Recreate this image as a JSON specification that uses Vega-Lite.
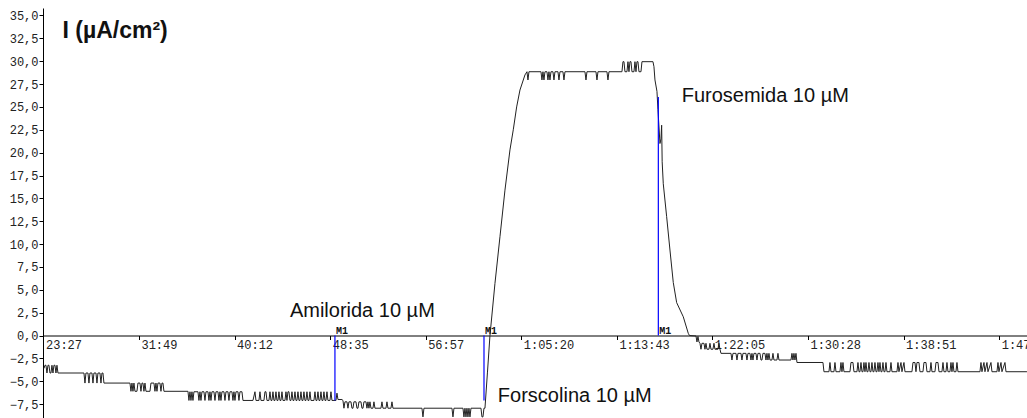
{
"$schema":"https://vega.github.io/schema/vega-lite/v6.json",
"width":984,"height":410,
"autosize":{"type":"none"},
"padding":{"left":43,"top":8,"right":0,"bottom":0},
"background":"white",
"config":{"view":{"stroke":null}},
"datasets":{
"trace":[
{"t":1409.4,"v":-3.6},{"t":1414.7,"v":-3.25},{"t":1420.0,"v":-3.25},{"t":1425.2,"v":-4.1},{"t":1430.5,"v":-3.25},{"t":1435.7,"v":-3.25},{"t":1441.0,"v":-4.1},{"t":1446.3,"v":-4.1},{"t":1451.5,"v":-3.25},{"t":1456.8,"v":-4.1},{"t":1462.0,"v":-3.25},{"t":1467.3,"v":-3.25},{"t":1472.6,"v":-4.1},{"t":1477.8,"v":-3.25},{"t":1483.1,"v":-4.1},{"t":1619.8,"v":-4.1},
{"t":1625.1,"v":-5.2},{"t":1630.4,"v":-4.1},{"t":1640.9,"v":-4.1},{"t":1646.1,"v":-5.2},{"t":1651.4,"v":-4.1},{"t":1661.9,"v":-4.1},{"t":1667.2,"v":-5.2},{"t":1672.4,"v":-4.1},{"t":1683.0,"v":-4.1},{"t":1688.2,"v":-5.2},{"t":1693.5,"v":-4.1},{"t":1704.0,"v":-4.1},{"t":1709.3,"v":-5.2},{"t":1714.5,"v":-4.1},{"t":1719.8,"v":-4.1},{"t":1725.0,"v":-5.2},{"t":1861.8,"v":-5.2},
{"t":1867.1,"v":-6.1},{"t":1872.3,"v":-5.2},{"t":1877.6,"v":-6.1},{"t":1882.8,"v":-5.2},{"t":1888.1,"v":-6.1},{"t":1898.6,"v":-6.1},{"t":1903.9,"v":-5.2},{"t":1914.4,"v":-5.2},{"t":1919.7,"v":-6.1},{"t":1924.9,"v":-5.2},{"t":1930.2,"v":-5.2},{"t":1935.4,"v":-6.1},{"t":1940.7,"v":-5.2},{"t":1946.0,"v":-6.1},{"t":1967.0,"v":-6.1},{"t":1972.3,"v":-5.2},{"t":1988.0,"v":-5.2},{"t":1993.3,"v":-6.1},{"t":1998.6,"v":-5.2},{"t":2003.8,"v":-6.1},{"t":2009.1,"v":-5.2},{"t":2019.6,"v":-5.2},{"t":2024.9,"v":-6.1},{"t":2030.1,"v":-5.2},{"t":2035.4,"v":-5.2},{"t":2040.6,"v":-6.1},{"t":2166.9,"v":-6.1},
{"t":2172.1,"v":-7.1},{"t":2177.4,"v":-6.15},{"t":2182.7,"v":-7.1},{"t":2187.9,"v":-6.15},{"t":2193.2,"v":-7.1},{"t":2198.4,"v":-6.15},{"t":2219.5,"v":-6.15},{"t":2224.7,"v":-7.1},{"t":2230.0,"v":-6.15},{"t":2235.3,"v":-7.1},{"t":2240.5,"v":-6.15},{"t":2251.0,"v":-6.15},{"t":2256.3,"v":-7.1},{"t":2261.6,"v":-6.15},{"t":2272.1,"v":-6.15},{"t":2277.3,"v":-7.1},{"t":2282.6,"v":-6.15},{"t":2287.9,"v":-7.1},{"t":2293.1,"v":-6.15},{"t":2303.6,"v":-6.15},{"t":2308.9,"v":-7.1},{"t":2314.2,"v":-6.15},{"t":2324.7,"v":-6.15},{"t":2329.9,"v":-7.1},{"t":2335.2,"v":-6.15},{"t":2340.5,"v":-7.1},{"t":2345.7,"v":-6.15},{"t":2356.2,"v":-6.15},{"t":2361.5,"v":-7.1},{"t":2366.8,"v":-6.15},{"t":2377.3,"v":-6.15},{"t":2382.5,"v":-7.1},{"t":2387.8,"v":-6.15},{"t":2398.3,"v":-6.15},{"t":2403.6,"v":-7.1},{"t":2408.8,"v":-6.15},{"t":2414.1,"v":-7.1},{"t":2419.4,"v":-6.15},{"t":2429.9,"v":-6.15},{"t":2435.1,"v":-7.1},{"t":2440.4,"v":-6.15},{"t":2450.9,"v":-6.15},{"t":2456.2,"v":-7.1},{"t":2508.8,"v":-7.1},
{"t":2519.3,"v":-6.15},{"t":2524.6,"v":-7.1},{"t":2540.3,"v":-7.1},{"t":2545.6,"v":-6.15},{"t":2550.9,"v":-7.1},{"t":2566.6,"v":-7.1},{"t":2571.9,"v":-6.15},{"t":2577.2,"v":-6.15},{"t":2582.4,"v":-7.1},{"t":2592.9,"v":-7.1},{"t":2598.2,"v":-6.15},{"t":2603.5,"v":-7.1},{"t":2608.7,"v":-7.1},{"t":2614.0,"v":-6.15},{"t":2619.2,"v":-7.1},{"t":2624.5,"v":-7.1},{"t":2629.8,"v":-6.15},{"t":2635.0,"v":-7.1},{"t":2640.3,"v":-7.1},{"t":2645.5,"v":-6.15},{"t":2650.8,"v":-7.1},{"t":2656.1,"v":-7.1},{"t":2661.3,"v":-6.15},{"t":2666.6,"v":-7.1},{"t":2677.1,"v":-7.1},{"t":2682.4,"v":-6.15},{"t":2687.6,"v":-7.1},{"t":2692.9,"v":-6.15},{"t":2698.1,"v":-6.15},{"t":2703.4,"v":-7.1},{"t":2708.7,"v":-7.1},{"t":2713.9,"v":-6.15},{"t":2719.2,"v":-7.1},{"t":2724.4,"v":-7.1},{"t":2729.7,"v":-6.15},{"t":2735.0,"v":-7.1},{"t":2740.2,"v":-7.1},{"t":2745.5,"v":-6.15},{"t":2750.7,"v":-7.1},{"t":2756.0,"v":-7.1},{"t":2761.3,"v":-6.15},{"t":2766.5,"v":-7.1},{"t":2771.8,"v":-7.1},{"t":2777.0,"v":-6.15},{"t":2782.3,"v":-7.1},{"t":2787.6,"v":-7.1},{"t":2792.8,"v":-6.15},{"t":2798.1,"v":-7.1},{"t":2803.3,"v":-7.1},{"t":2808.6,"v":-6.15},{"t":2813.9,"v":-7.1},{"t":2829.6,"v":-7.1},{"t":2834.9,"v":-6.15},{"t":2840.2,"v":-7.1},{"t":2845.4,"v":-7.1},{"t":2850.7,"v":-6.15},{"t":2855.9,"v":-7.1},{"t":2861.2,"v":-7.1},{"t":2866.5,"v":-6.15},{"t":2871.7,"v":-7.1},{"t":2877.0,"v":-7.1},{"t":2882.2,"v":-6.15},{"t":2887.5,"v":-7.1},{"t":2892.7,"v":-7.1},{"t":2898.0,"v":-6.15},{"t":2903.2,"v":-7.1},{"t":2913.8,"v":-7.1},{"t":2919.1,"v":-6.15},{"t":2924.3,"v":-7.1},{"t":2945.4,"v":-7.1},{"t":2950.6,"v":-6.3},{"t":2955.9,"v":-7.0},{"t":2976.9,"v":-7.0},{"t":2982.2,"v":-7.1},
{"t":2987.4,"v":-7.95},{"t":2992.7,"v":-7.25},{"t":3003.2,"v":-7.25},{"t":3008.5,"v":-7.95},{"t":3013.7,"v":-7.25},{"t":3024.3,"v":-7.25},{"t":3029.5,"v":-7.95},{"t":3034.8,"v":-7.95},{"t":3040.0,"v":-7.25},{"t":3050.6,"v":-7.25},{"t":3055.8,"v":-7.95},{"t":3061.1,"v":-7.95},{"t":3066.3,"v":-7.25},{"t":3076.9,"v":-7.25},{"t":3082.1,"v":-7.95},{"t":3087.4,"v":-7.95},{"t":3092.6,"v":-7.25},{"t":3103.2,"v":-7.25},{"t":3108.4,"v":-7.95},{"t":3113.7,"v":-7.25},{"t":3118.9,"v":-7.95},{"t":3124.2,"v":-7.25},{"t":3129.5,"v":-7.95},{"t":3140.0,"v":-7.95},{"t":3145.2,"v":-7.25},{"t":3150.5,"v":-7.95},{"t":3182.1,"v":-7.95},{"t":3187.3,"v":-7.25},{"t":3192.6,"v":-7.95},{"t":3208.4,"v":-7.95},{"t":3213.6,"v":-7.25},{"t":3218.9,"v":-7.95},{"t":3234.7,"v":-7.95},{"t":3239.9,"v":-7.25},{"t":3245.2,"v":-7.95},{"t":3397.7,"v":-7.95},{"t":3403.0,"v":-8.9},{"t":3408.2,"v":-7.95},{"t":3555.5,"v":-7.95},{"t":3560.8,"v":-8.9},{"t":3566.0,"v":-7.95},{"t":3613.4,"v":-7.95},{"t":3618.6,"v":-8.9},{"t":3623.9,"v":-7.95},{"t":3629.2,"v":-8.9},{"t":3634.4,"v":-7.95},{"t":3639.7,"v":-8.9},{"t":3644.9,"v":-7.95},{"t":3650.2,"v":-8.9},{"t":3655.5,"v":-7.95},{"t":3708.1,"v":-7.95},{"t":3713.3,"v":-8.9},{"t":3718.6,"v":-8.9},{"t":3723.8,"v":-7.95},
{"t":3729.1,"v":-7.95},{"t":3742.3,"v":-4.0},{"t":3755.4,"v":0.0},{"t":3781.7,"v":5.7},{"t":3808.0,"v":10.8},{"t":3834.3,"v":15.9},{"t":3860.6,"v":20.3},{"t":3878.0,"v":22.5},{"t":3895.8,"v":25.0},{"t":3913.2,"v":26.85},{"t":3939.5,"v":28.5},{"t":3950.0,"v":28.85},
{"t":3955.3,"v":27.95},{"t":3960.5,"v":28.85},{"t":4023.7,"v":28.85},{"t":4028.9,"v":27.95},{"t":4034.2,"v":28.85},{"t":4039.4,"v":27.95},{"t":4044.7,"v":28.85},{"t":4055.2,"v":28.85},{"t":4060.5,"v":27.95},{"t":4065.7,"v":28.85},{"t":4071.0,"v":27.95},{"t":4076.3,"v":28.85},{"t":4086.8,"v":28.85},{"t":4092.0,"v":27.95},{"t":4097.3,"v":28.85},{"t":4113.1,"v":28.85},{"t":4118.3,"v":27.95},{"t":4123.6,"v":28.85},{"t":4139.4,"v":28.85},{"t":4144.6,"v":27.95},{"t":4149.9,"v":28.85},{"t":4255.1,"v":28.85},{"t":4260.4,"v":27.95},{"t":4265.6,"v":28.85},{"t":4313.0,"v":28.85},{"t":4318.2,"v":27.95},{"t":4323.5,"v":28.85},{"t":4370.8,"v":28.85},{"t":4376.1,"v":27.95},{"t":4381.3,"v":28.85},{"t":4449.7,"v":28.85},{"t":4455.0,"v":29.95},{"t":4460.2,"v":29.95},{"t":4465.5,"v":28.85},{"t":4476.0,"v":28.85},{"t":4481.3,"v":29.95},{"t":4486.5,"v":28.85},{"t":4491.8,"v":29.95},{"t":4497.1,"v":29.95},{"t":4502.3,"v":28.85},{"t":4512.8,"v":28.85},{"t":4518.1,"v":29.95},{"t":4523.4,"v":28.85},{"t":4528.6,"v":29.95},{"t":4533.9,"v":29.95},{"t":4539.1,"v":28.85},{"t":4549.7,"v":28.85},{"t":4554.9,"v":29.95},{"t":4612.8,"v":29.95},
{"t":4618.0,"v":29.4},{"t":4623.3,"v":27.95},{"t":4633.8,"v":26.7},{"t":4639.1,"v":24.7},{"t":4649.6,"v":21.0},{"t":4654.9,"v":21.5},{"t":4658.5,"v":23.0},{"t":4661.2,"v":19.0},{"t":4667.0,"v":16.6},{"t":4684.8,"v":13.0},{"t":4702.2,"v":9.35},{"t":4719.6,"v":5.8},{"t":4737.4,"v":3.6},{"t":4772.2,"v":2.05},{"t":4798.5,"v":0.24},{"t":4804.8,"v":0.0},
{"t":4839.0,"v":-0.05},{"t":4844.2,"v":-0.7},{"t":4849.5,"v":-0.1},{"t":4854.7,"v":-0.7},{"t":4860.0,"v":-0.85},{"t":4865.3,"v":-1.5},{"t":4870.5,"v":-0.85},{"t":4881.0,"v":-0.85},{"t":4886.3,"v":-1.5},{"t":4891.6,"v":-0.85},{"t":4896.8,"v":-1.5},{"t":4907.3,"v":-1.5},{"t":4912.6,"v":-0.85},{"t":4917.9,"v":-1.5},{"t":4928.4,"v":-1.5},{"t":4933.6,"v":-0.85},{"t":4938.9,"v":-1.5},{"t":4954.7,"v":-1.5},{"t":4959.9,"v":-0.85},{"t":4965.2,"v":-1.5},{"t":4970.5,"v":-1.95},
{"t":5023.1,"v":-1.95},{"t":5028.3,"v":-2.68},{"t":5033.6,"v":-1.95},{"t":5049.4,"v":-1.95},{"t":5054.6,"v":-2.68},{"t":5059.9,"v":-1.95},{"t":5075.7,"v":-1.95},{"t":5080.9,"v":-2.68},{"t":5086.2,"v":-1.95},{"t":5101.9,"v":-1.95},{"t":5107.2,"v":-2.68},{"t":5112.5,"v":-1.95},{"t":5123.0,"v":-1.95},{"t":5128.3,"v":-2.68},{"t":5133.5,"v":-1.95},{"t":5138.8,"v":-2.68},{"t":5144.0,"v":-1.95},{"t":5154.6,"v":-1.95},{"t":5159.8,"v":-2.68},{"t":5165.1,"v":-1.95},{"t":5175.6,"v":-1.95},{"t":5180.9,"v":-2.68},{"t":5186.1,"v":-2.68},{"t":5191.4,"v":-1.95},{"t":5201.9,"v":-1.95},{"t":5207.2,"v":-2.68},{"t":5212.4,"v":-1.95},{"t":5217.7,"v":-2.68},{"t":5222.9,"v":-1.95},{"t":5228.2,"v":-2.68},{"t":5238.7,"v":-2.68},{"t":5244.0,"v":-1.95},{"t":5249.2,"v":-2.68},{"t":5265.0,"v":-2.68},{"t":5270.3,"v":-1.95},{"t":5275.5,"v":-2.68},{"t":5338.7,"v":-2.68},{"t":5343.9,"v":-1.95},{"t":5349.2,"v":-2.68},{"t":5354.4,"v":-1.95},{"t":5359.7,"v":-2.68},{"t":5365.0,"v":-1.95},{"t":5370.2,"v":-2.95},{"t":5507.0,"v":-2.95},{"t":5512.2,"v":-3.96},
{"t":5538.5,"v":-3.96},{"t":5543.8,"v":-2.95},{"t":5549.1,"v":-3.96},{"t":5564.8,"v":-3.96},{"t":5570.1,"v":-2.95},{"t":5575.4,"v":-3.96},{"t":5596.4,"v":-3.96},{"t":5601.7,"v":-2.95},{"t":5606.9,"v":-3.96},{"t":5612.2,"v":-2.95},{"t":5617.4,"v":-3.96},{"t":5649.0,"v":-3.96},{"t":5654.3,"v":-2.95},{"t":5664.8,"v":-2.95},{"t":5670.0,"v":-3.96},{"t":5685.8,"v":-3.96},{"t":5691.1,"v":-2.95},{"t":5696.3,"v":-3.96},{"t":5701.6,"v":-3.96},{"t":5706.9,"v":-2.95},{"t":5712.1,"v":-3.96},{"t":5717.4,"v":-3.96},{"t":5722.6,"v":-2.95},{"t":5727.9,"v":-3.96},{"t":5733.2,"v":-2.95},{"t":5738.4,"v":-3.96},{"t":5743.7,"v":-3.96},{"t":5748.9,"v":-2.95},{"t":5754.2,"v":-3.96},{"t":5759.5,"v":-3.96},{"t":5764.7,"v":-2.95},{"t":5770.0,"v":-3.96},{"t":5775.2,"v":-3.96},{"t":5780.5,"v":-2.95},{"t":5785.8,"v":-3.96},{"t":5791.0,"v":-3.96},{"t":5796.3,"v":-2.95},{"t":5801.5,"v":-3.96},{"t":5806.8,"v":-2.95},{"t":5812.1,"v":-3.96},{"t":5817.3,"v":-3.96},{"t":5822.6,"v":-2.95},{"t":5827.8,"v":-3.96},{"t":5833.1,"v":-3.96},{"t":5838.4,"v":-2.95},{"t":5843.6,"v":-3.96},{"t":5859.4,"v":-3.96},{"t":5864.7,"v":-2.95},{"t":5869.9,"v":-3.96},{"t":5896.2,"v":-3.96},{"t":5901.5,"v":-2.95},{"t":5906.7,"v":-3.96},{"t":5917.3,"v":-2.95},{"t":5922.5,"v":-3.96},{"t":5933.0,"v":-2.95},{"t":5938.3,"v":-3.96},{"t":5975.1,"v":-3.96},{"t":5980.4,"v":-2.95},{"t":5990.9,"v":-2.95},{"t":5996.2,"v":-3.96},{"t":6001.4,"v":-2.95},{"t":6011.9,"v":-2.95},{"t":6017.2,"v":-3.96},{"t":6033.0,"v":-3.96},{"t":6038.2,"v":-2.95},{"t":6048.8,"v":-2.95},{"t":6054.0,"v":-3.96},{"t":6069.8,"v":-3.96},{"t":6075.1,"v":-2.95},{"t":6080.3,"v":-3.96},{"t":6096.1,"v":-3.96},{"t":6101.4,"v":-2.95},{"t":6111.9,"v":-2.95},{"t":6117.1,"v":-3.96},{"t":6132.9,"v":-3.96},{"t":6138.2,"v":-2.95},{"t":6143.4,"v":-3.96},{"t":6154.0,"v":-3.96},{"t":6159.2,"v":-2.95},{"t":6164.5,"v":-3.96},{"t":6175.0,"v":-3.96},{"t":6180.3,"v":-2.95},{"t":6185.5,"v":-3.96},{"t":6190.8,"v":-2.95},{"t":6196.0,"v":-3.96},{"t":6206.6,"v":-3.96},{"t":6211.8,"v":-2.95},{"t":6217.1,"v":-3.96},{"t":6332.8,"v":-3.96},{"t":6338.1,"v":-2.95},{"t":6343.3,"v":-3.96},{"t":6353.8,"v":-2.95},{"t":6359.1,"v":-3.96},{"t":6369.6,"v":-2.95},{"t":6374.9,"v":-3.96},{"t":6390.6,"v":-2.95},{"t":6395.9,"v":-3.96},{"t":6422.2,"v":-3.96},{"t":6427.5,"v":-2.95},{"t":6432.7,"v":-3.96},{"t":6443.3,"v":-2.95},{"t":6448.5,"v":-3.96},{"t":6464.3,"v":-2.95},{"t":6469.6,"v":-3.96},{"t":6580.0,"v":-3.96}
],
"markers":[{"t":2940,"v":-7.1,"m":"M1"},{"t":3724,"v":-7.1,"m":"M1"},{"t":4641,"v":26.1,"m":"M1"}],
"notes":[{"t":2703,"v":2.0,"txt":"Amilorida 10 µM"},{"t":3797,"v":-7.24,"txt":"Forscolina 10 µM"},{"t":4764,"v":25.57,"txt":"Furosemida 10 µM"}]
},
"encoding":{
"x":{"field":"t","type":"quantitative","scale":{"domain":[1404.4,6580.2],"nice":false,"zero":false},
"axis":{"orient":"bottom","offset":-82.5,"values":[1407,1909,2412,2915,3417,3920,4423,4925,5428,5931,6434],
"labelExpr":"datum.value < 3600 ? (floor(datum.value/60) + ':' + format(datum.value%60,'02d')) : (floor(datum.value/3600) + ':' + format(floor((datum.value%3600)/60),'02d') + ':' + format(datum.value%60,'02d'))",
"labelAlign":"left","labelBaseline":"top","labelOffset":2,"labelPadding":0,"labelFont":"Liberation Mono","labelFontSize":12,"labelColor":"#222","labelOverlap":false,"labelBound":false,"labelFlush":false,
"tickSize":4,"tickColor":"#000","domainColor":"#000","grid":false,"title":null}},
"y":{"field":"v","type":"quantitative","scale":{"domain":[-9.02,35.82],"nice":false,"zero":false},
"axis":{"orient":"left","values":[-7.5,-5,-2.5,0,2.5,5,7.5,10,12.5,15,17.5,20,22.5,25,27.5,30,32.5,35],
"labelExpr":"replace(format(datum.value,'.1f'),'.',',')","labelFont":"Liberation Mono","labelFontSize":12,"labelColor":"#222","labelPadding":1,"labelOverlap":false,
"tickSize":4,"tickColor":"#000","domainColor":"#000","grid":false,
"title":"I (µA/cm²)","titleAngle":0,"titleX":19,"titleY":29,"titleAlign":"left","titleBaseline":"alphabetic","titleFont":"Liberation Sans","titleFontSize":23,"titleFontWeight":"bold","titleColor":"#111"}}
},
"layer":[
{"data":{"name":"trace"},"mark":{"type":"line","color":"#222","strokeWidth":1,"interpolate":"linear"}},
{"data":{"name":"markers"},"mark":{"type":"rule","color":"#0000ff","strokeWidth":1.2},"encoding":{"y":{"datum":0},"y2":{"field":"v"}}},
{"data":{"name":"markers"},"mark":{"type":"text","font":"Liberation Mono","fontSize":10,"fontWeight":"bold","align":"left","baseline":"alphabetic","dx":1,"dy":-2,"color":"#111"},"encoding":{"y":{"datum":0},"text":{"field":"m"}}},
{"data":{"name":"notes"},"mark":{"type":"text","font":"Liberation Sans","fontSize":20,"align":"left","baseline":"alphabetic","color":"#111"},"encoding":{"text":{"field":"txt"}}}
]
}
